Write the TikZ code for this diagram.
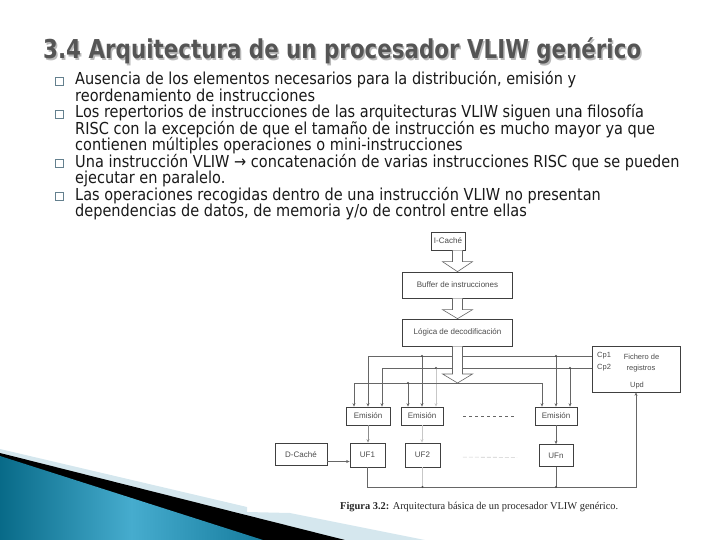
\documentclass[tikz,border=0pt]{standalone}
\usepackage{fontspec}
\usepackage{graphicx}
\setmainfont{DejaVu Sans}
\newfontfamily\titlefont{DejaVu Sans}
\newfontfamily\diagfont{Liberation Sans}
\newfontfamily\capfont{Liberation Serif}
\usetikzlibrary{arrows.meta,shadows,calc}
\definecolor{titlegray}{RGB}{85,85,85}
\definecolor{titleshadow}{RGB}{185,185,185}
\definecolor{bulletcol}{RGB}{100,128,142}
\definecolor{lightband}{RGB}{213,231,238}
\definecolor{tealdark}{RGB}{8,106,136}
\definecolor{teallight}{RGB}{70,172,206}
\definecolor{tealmid}{RGB}{22,124,158}
\newlength\lenone
\newcommand\bfnt{\fontsize{16.5}{18}\selectfont}
\begin{document}
\settowidth{\lenone}{\bfnt Ausencia de los elementos necesarios para la distribución, emisión y}%
\pgfmathsetmacro\bsc{501/\lenone}%
\begin{tikzpicture}[x=1pt,y=-1pt,
  blk/.style={draw=black!75, line width=0.7pt, fill=white, inner sep=0pt,
    font=\diagfont\fontsize{8}{9}\selectfont, text=black!70,
    drop shadow={shadow xshift=0.8pt, shadow yshift=-0.8pt, fill=black!60, opacity=0.6}},
  wire/.style={draw=black!60, line width=0.6pt},
  faint/.style={draw=black!22, line width=0.6pt},
  arr/.style={-{Stealth[length=3.5pt,width=3pt]}},
  dot/.style={circle, fill=black!70, inner sep=0pt, minimum size=2.2pt},
  bl/.style={anchor=base west, inner sep=0pt, font=\bfnt, text=black!90},
  bsq/.style={draw=bulletcol, line width=0.6pt, fill=white, inner sep=0pt, minimum size=8pt},
  ftxt/.style={inner sep=0pt, font=\diagfont\fontsize{7.5}{8.5}\selectfont, text=black!70},
  harrowstyle/.style={draw=black!60, line width=0.6pt, fill=white}
]
\useasboundingbox (0,0) rectangle (720,540);

% ---------- bottom-left decoration ----------
\fill[lightband] (0,449) -- (247,507) -- (247,512) -- (290,513) -- (425,540) -- (0,540) -- cycle;
\fill[black] (0,453) -- (345,540) -- (0,540) -- cycle;
\shade[left color=tealdark, right color=tealmid, middle color=teallight]
  (0,456) -- (263,540) -- (0,540) -- cycle;

% ---------- title ----------
\node[anchor=base west, inner sep=0pt, text=titleshadow] (titlesh) at (44.5,60.5)
  {\resizebox{598pt}{\height}{\titlefont\bfseries\fontsize{26}{30}\selectfont 3.4 Arquitectura de un procesador VLIW genérico}};
\node[anchor=base west, inner sep=0pt, text=titlegray] (title) at (43,59)
  {\resizebox{598pt}{\height}{\titlefont\bfseries\fontsize{26}{30}\selectfont 3.4 Arquitectura de un procesador VLIW genérico}};

% ---------- bullets ----------
\node[bsq] (b1) at (59,81) {};
\node[bsq] (b2) at (59,114) {};
\node[bsq] (b3) at (59,163.5) {};
\node[bsq] (b4) at (59,196.5) {};
\node[bl] (l1) at (75,85) {\scalebox{\bsc}[1]{Ausencia de los elementos necesarios para la distribución, emisión y}};
\node[bl] (l2) at (75,101.5) {\scalebox{\bsc}[1]{reordenamiento de instrucciones}};
\node[bl] (l3) at (75,118) {\scalebox{\bsc}[1]{Los repertorios de instrucciones de las arquitecturas VLIW siguen una filosofía}};
\node[bl] (l4) at (75,134.5) {\scalebox{\bsc}[1]{RISC con la excepción de que el tamaño de instrucción es mucho mayor ya que}};
\node[bl] (l5) at (75,151) {\scalebox{\bsc}[1]{contienen múltiples operaciones o mini-instrucciones}};
\node[bl] (l6) at (75,167.5) {\scalebox{\bsc}[1]{Una instrucción VLIW → concatenación de varias instrucciones RISC que se pueden}};
\node[bl] (l7) at (75,184) {\scalebox{\bsc}[1]{ejecutar en paralelo.}};
\node[bl] (l8) at (75,200.5) {\scalebox{\bsc}[1]{Las operaciones recogidas dentro de una instrucción VLIW no presentan}};
\node[bl] (l9) at (75,217) {\scalebox{\bsc}[1]{dependencias de datos, de memoria y/o de control entre ellas}};

% ---------- diagram boxes ----------
\node[blk, minimum width=34pt, minimum height=18pt] (icache) at (448,241) {I-Caché};
\node[blk, minimum width=110pt, minimum height=26pt] (buffer) at (457.5,285) {Buffer de instrucciones};
\node[blk, minimum width=110pt, minimum height=27pt] (logica) at (457.5,332.5) {Lógica de decodificación};
\node[blk, minimum width=88pt, minimum height=46pt] (fich) at (636,369) {};
\node[ftxt, anchor=west] (cp1) at (597,356) {Cp1};
\node[ftxt, anchor=west] (cp2) at (597,368) {Cp2};
\node[ftxt] (fichtxt) at (641.5,357) {Fichero de};
\node[ftxt] (regtxt) at (641,369) {registros};
\node[ftxt] (upd) at (637,385.5) {Upd};

\node[blk, minimum width=44pt, minimum height=18pt] (em1) at (368,416) {Emisión};
\node[blk, minimum width=42pt, minimum height=18pt] (em2) at (422,416) {Emisión};
\node[blk, minimum width=42pt, minimum height=18pt] (emn) at (556,416) {Emisión};

\node[blk, minimum width=52pt, minimum height=22pt] (dcache) at (301,454.5) {D-Caché};
\node[blk, minimum width=35pt, minimum height=24pt] (uf1) at (367.5,455) {UF1};
\node[blk, minimum width=35pt, minimum height=24pt] (uf2) at (422.5,455) {UF2};
\node[blk, minimum width=34pt, minimum height=22pt] (ufn) at (556,455.5) {UFn};

% ---------- wires from the decoder ----------
\coordinate (y1) at (0,356);
\coordinate (y2) at (0,368);
\coordinate (y3) at (0,383);
\coordinate (bus) at (0,487);

% line 1 (Cp1)
\draw[wire,arr] (fich.west |- y1) -| (em1.north);
\draw[wire,arr] (em2.north |- y1) -- (em2.north);
\draw[wire,arr] (emn.north |- y1) -- (emn.north);
\node[dot] (d11) at (em2.north |- y1) {};
\node[dot] (d12) at (emn.north |- y1) {};
% line 2 (Cp2)
\draw[wire,arr] (fich.west |- y2) -| ([xshift=14pt]em1.north);
\draw[faint,arr] ([xshift=14pt]em2.north |- y2) -- ([xshift=14pt]em2.north);
\draw[wire,arr] ([xshift=14pt]emn.north |- y2) -- ([xshift=14pt]emn.north);
\node[dot] (d21) at ([xshift=14pt]em2.north |- y2) {};
\node[dot] (d22) at ([xshift=14pt]emn.north |- y2) {};
% line 3 (decoder output)
\draw[wire,arr] ([xshift=-14pt]emn.north |- y3) -- ([xshift=-14pt]emn.north);
\draw[wire,arr] ([xshift=-14pt]emn.north |- y3) -| ([xshift=-14pt]em1.north);
\draw[wire,arr] ([xshift=-14pt]em2.north |- y3) -- ([xshift=-14pt]em2.north);
\node[dot] (d31) at ([xshift=-14pt]em2.north |- y3) {};

% ---------- hollow arrows ----------
\coordinate (atip) at (logica.south |- y3);
\draw[harrowstyle] let \p1=(icache.south), \p2=(buffer.north) in
  (\x2-5,\y1) -- (\x2-5,\y2+10) -- (\x2-15,\y2+10) -- (\x2,\y2) -- (\x2+15,\y2+10) -- (\x2+5,\y2+10) -- (\x2+5,\y1);
\draw[harrowstyle] let \p1=(buffer.south), \p2=(logica.north) in
  (\x2-5,\y1) -- (\x2-5,\y2+9) -- (\x2-15,\y2+9) -- (\x2,\y2) -- (\x2+15,\y2+9) -- (\x2+5,\y2+9) -- (\x2+5,\y1);
\draw[harrowstyle] let \p1=(logica.south), \p2=(atip) in
  (\x2-5,\y1) -- (\x2-5,\y2+9) -- (\x2-15,\y2+9) -- (\x2,\y2) -- (\x2+15,\y2+9) -- (\x2+5,\y2+9) -- (\x2+5,\y1);

% ---------- Emision -> UF ----------
\draw[faint,draw=black!45,arr] (em1.south) -- (em1.south |- uf1.north);
\draw[faint,arr] (em2.south) -- (em2.south |- uf2.north);
\draw[wire,arr] (emn.south) -- (emn.south |- ufn.north);
\draw[wire,arr] ([yshift=-7pt]dcache.east) -- ([yshift=-7pt]dcache.east -| uf1.west);

% dashed separators
\draw[black!60, line width=0.6pt, dash pattern=on 3pt off 3pt]
  ($(em2.east)!0.22!(emn.west)$) -- ($(em2.east)!0.8!(emn.west)$);
\draw[black!20, line width=0.6pt, dash pattern=on 4pt off 2pt]
  ($(uf2.east)!0.23!(ufn.west)+(0,2)$) -- ($(uf2.east)!0.78!(ufn.west)+(0,2)$);

% ---------- result bus ----------
\draw[wire,arr] (uf1.south) |- (fich.south |- bus) -- (fich.south);
\draw[wire] (ufn.south) -- (ufn.south |- bus);
\draw[faint] (uf2.south) -- (uf2.south |- bus);
\node[dot] (db1) at (uf2.south |- bus) {};
\node[dot] (db2) at (ufn.south |- bus) {};

% ---------- caption ----------
\node[anchor=base west, inner sep=0pt, text=black!85] (caption) at (340,509)
  {\resizebox{278pt}{\height}{\capfont\fontsize{10.5}{12}\selectfont\textbf{Figura 3.2:} Arquitectura básica de un procesador VLIW genérico.}};
\end{tikzpicture}
\end{document}
